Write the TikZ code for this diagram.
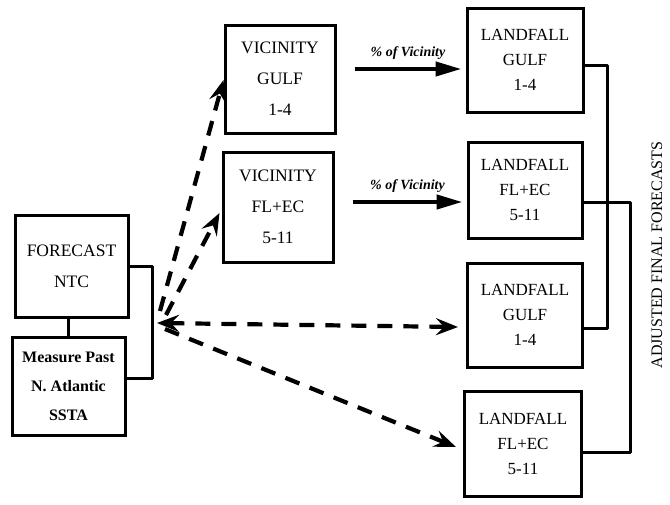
\documentclass[tikz,border=0pt]{standalone}
\usepackage{fontspec}
\setmainfont{Liberation Serif}
\usetikzlibrary{arrows.meta,calc}
\begin{document}
\begin{tikzpicture}[x=1pt,y=-1pt,
  box/.style={draw,line width=3pt,inner sep=0pt,align=center,fill=white},
  big/.style={font=\fontsize{17.5}{31}\selectfont},
  land/.style={font=\fontsize{17}{25}\selectfont},
  conn/.style={line width=3pt,line join=round},
  solidarrow/.style={line width=4.2pt,-{Triangle[length=26pt,width=14pt]}},
  dasharrow/.style={line width=4.2pt,dash pattern=on 15pt off 11pt,-{Stealth[length=22pt,width=17pt,inset=8pt]}},
  twodash/.style={line width=4.2pt,dash pattern=on 15pt off 11pt,{Stealth[length=22pt,width=17pt,inset=8pt]}-{Stealth[length=22pt,width=17pt,inset=8pt]}},
  lbl/.style={font=\fontsize{14}{16}\selectfont\bfseries\itshape}]
\useasboundingbox (0,0) rectangle (670,504);
% left boxes
\node[box,big,minimum width=113pt,minimum height=102pt] (fc) at (71.5,266) {FORECAST\\NTC};
\node[box,minimum width=113pt,minimum height=98pt,font=\fontsize{16}{29}\selectfont\bfseries] (ms) at (68.5,386) {Measure Past\\N. Atlantic\\SSTA};
% vicinity boxes
\node[box,big,minimum width=110pt,minimum height=108pt] (vg) at (280,79) {VICINITY\\GULF\\1-4};
\node[box,big,minimum width=110pt,minimum height=110pt] (vf) at (278,207) {VICINITY\\FL+EC\\5-11};
% landfall boxes
\node[box,land,minimum width=116pt,minimum height=104pt] (lg1) at (525,60) {LANDFALL\\GULF\\1-4};
\node[box,land,minimum width=114pt,minimum height=96pt] (lf1) at (525,190) {LANDFALL\\FL+EC\\5-11};
\node[box,land,minimum width=115pt,minimum height=104pt] (lg2) at (525,315) {LANDFALL\\GULF\\1-4};
\node[box,land,minimum width=117pt,minimum height=105pt] (lf2) at (523,444) {LANDFALL\\FL+EC\\5-11};
% side label
\node[rotate=90,font=\fontsize{16}{18}\selectfont] (adj) at (657,255) {ADJUSTED FINAL FORECASTS};
% left connectors
\coordinate (brk) at (152,325);
\draw[conn] (fc.south -| 68,0) -- (ms.north -| 68,0);
\draw[conn] (fc.east) -| (brk) |- ($(ms.east)+(0,-8)$);
% right connectors
\coordinate (rb1) at (607,200);
\coordinate (rb2) at (630,300);
\draw[conn] ($(lg1.east)+(0,5)$) -| (rb1) |- ($(lg2.east)+(0,13)$);
\draw[conn] ($(lf1.east)+(0,12)$) -| (rb2) |- ($(lf2.east)+(0,8)$);
% percent arrows
\draw[solidarrow] ($(vg.east)+(18,-10)$) -- ($(lg1.west)+(-4,9)$) node[midway,above=4pt,lbl] (p1) {\% of Vicinity};
\draw[solidarrow] ($(vf.east)+(18,-5)$) -- ($(lf1.west)+(-4,12)$) node[midway,above=4pt,lbl] (p2) {\% of Vicinity};
% dashed arrows
\coordinate (src) at (157,323);
\draw[dasharrow] ($(src)+(3,-12)$) -- ($(vg.west)+(0,1)$);
\draw[dasharrow] ($(src)+(9,-8)$) -- ($(vf.west)+(-2,6)$);
\draw[twodash] (src) -- ($(lg2.west)+(-8,12)$);
\draw[dasharrow] ($(src)+(8,6)$) -- ($(lf2.west)+(-7,3)$);
\end{tikzpicture}
\end{document}
